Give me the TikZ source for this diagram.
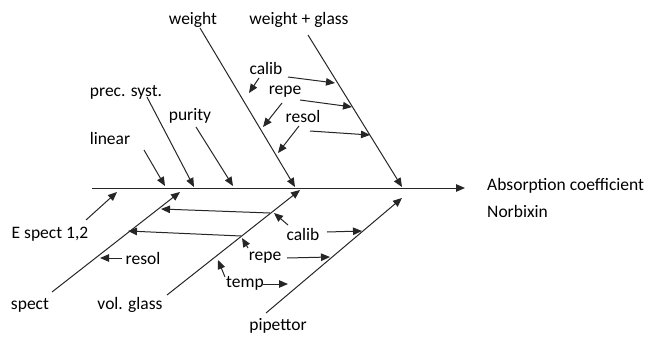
\documentclass[tikz,border=0pt]{standalone}
\usepackage{fontspec}
\setmainfont{Carlito}
\usetikzlibrary{arrows.meta}
\begin{document}
\begin{tikzpicture}[x=1pt,y=-1pt,
  lbl/.style={inner sep=0pt,font=\fontsize{17.5}{20}\selectfont},
  arr/.style={line width=1pt,draw=black!85,-{Triangle[length=9pt,width=7.5pt]}},
  ln/.style={line width=1pt,draw=black!85}]
\useasboundingbox (0,0) rectangle (651,337);
% spine
\coordinate (s0) at (92,188);
\coordinate (s1) at (465,188);
\draw[arr] (s0) -- (s1);
\node[lbl,anchor=west] (abs) at (487,186) {Absorption coefficient};
\node[lbl,anchor=west] (nor) at (487,211) {Norbixin};
% top bones
\node[lbl] (weight) at (193,20) {weight};
\coordinate (w0) at (200,28); \coordinate (w1) at (295,187);
\draw[arr] (w0) -- (w1);
\node[lbl] (wg) at (299,20) {weight + glass};
\coordinate (g0) at (308,35); \coordinate (g1) at (402,187);
\draw[arr] (g0) -- (g1);
\node[lbl] (calibT) at (266,68) {calib};
\node[lbl] (repeT) at (285,92) {repe};
\node[lbl] (resolT) at (303,116) {resol};
\coordinate (c0) at (288,77); \coordinate (c1) at (335,83);
\coordinate (r0) at (300,100); \coordinate (r1) at (352,107);
\coordinate (o0) at (310,131); \coordinate (o1) at (370,135);
\draw[arr] (c0) -- (c1);
\draw[arr] (r0) -- (r1);
\draw[arr] (o0) -- (o1);
\coordinate (c2) at (259,78); \coordinate (c3) at (249,93);
\coordinate (r2) at (282,103); \coordinate (r3) at (263,127);
\coordinate (o2) at (299,126); \coordinate (o3) at (278,153);
\draw[arr] (c2) -- (c3);
\draw[arr] (r2) -- (r3);
\draw[arr] (o2) -- (o3);
\node[lbl] (prec) at (126,92) {prec. syst.};
\coordinate (p0) at (147,97); \coordinate (p1) at (194,187);
\draw[arr] (p0) -- (p1);
\node[lbl] (purity) at (190,116) {purity};
\coordinate (u0) at (196,127); \coordinate (u1) at (233,186);
\draw[arr] (u0) -- (u1);
\node[lbl] (linear) at (110,138) {linear};
\coordinate (l0) at (144,150); \coordinate (l1) at (165,186);
\draw[arr] (l0) -- (l1);
% bottom
\node[lbl] (espect) at (50,234) {E spect 1,2};
\coordinate (e0) at (86,220); \coordinate (e1) at (117,192);
\draw[arr] (e0) -- (e1);
\node[lbl] (spect) at (30,305) {spect};
\coordinate (sp0) at (52,292); \coordinate (sp1) at (180,192);
\draw[arr] (sp0) -- (sp1);
\node[lbl] (vol) at (130,305) {vol. glass};
\coordinate (v0) at (167,295); \coordinate (v1) at (300,190);
\draw[arr] (v0) -- (v1);
\coordinate (h0) at (270,213); \coordinate (h1) at (161,209);
\coordinate (k0) at (241,236); \coordinate (k1) at (128,231);
\draw[arr] (h0) -- (h1);
\draw[arr] (k0) -- (k1);
\node[lbl] (calibB) at (303,234) {calib};
\coordinate (cb0) at (288,225); \coordinate (cb1) at (274,213);
\draw[arr] (cb0) -- (cb1);
\coordinate (cb2) at (327,232); \coordinate (cb3) at (362,231);
\draw[arr] (cb2) -- (cb3);
\node[lbl] (repeB) at (265,258) {repe};
\coordinate (rb0) at (248,248); \coordinate (rb1) at (242,238);
\draw[arr] (rb0) -- (rb1);
\coordinate (rb2) at (287,258); \coordinate (rb3) at (330,257);
\draw[arr] (rb2) -- (rb3);
\node[lbl] (temp) at (245,283) {temp};
\coordinate (t0) at (225,277); \coordinate (t1) at (218,260);
\draw[arr] (t0) -- (t1);
\coordinate (t2) at (263,284); \coordinate (t3) at (288,284);
\draw[arr] (t2) -- (t3);
\node[lbl] (resolB) at (143,258) {resol};
\coordinate (rs0) at (122,258); \coordinate (rs1) at (100,258);
\draw[arr] (rs0) -- (rs1);
\node[lbl] (pip) at (278,326) {pipettor};
\coordinate (pp0) at (266,313); \coordinate (pp1) at (402,198);
\draw[arr] (pp0) -- (pp1);
\end{tikzpicture}
\end{document}
